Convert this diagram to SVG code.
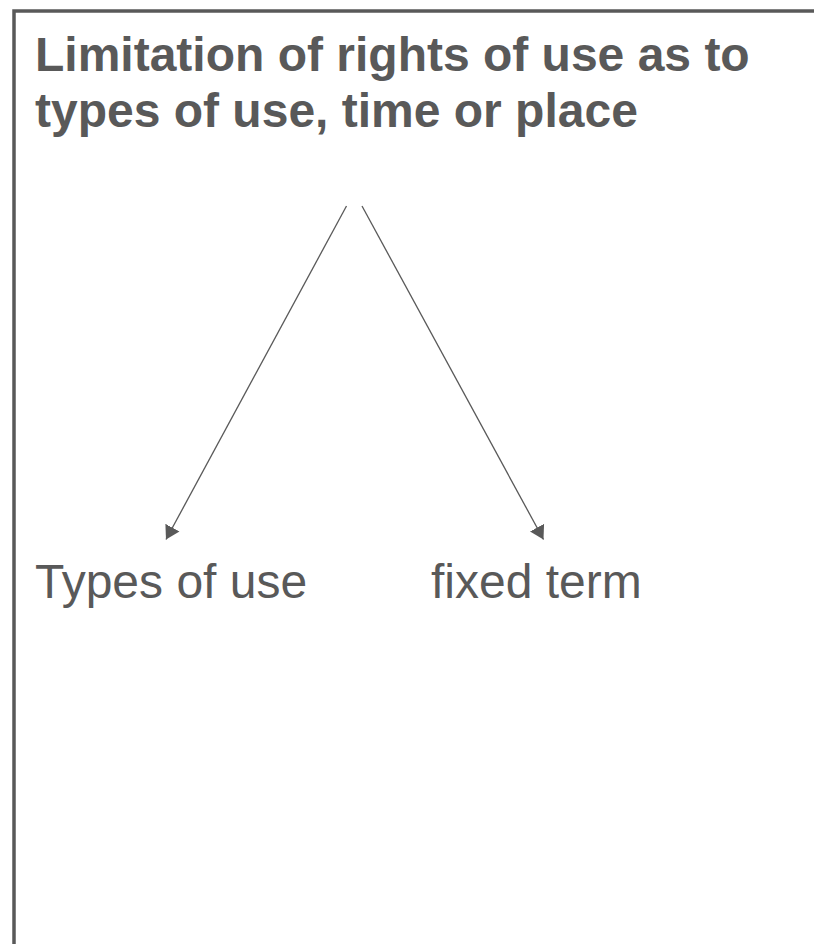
<svg xmlns="http://www.w3.org/2000/svg" width="814" height="944" viewBox="0 0 814 944">
  <style>
    .frame { fill: #ffffff; stroke: #595959; stroke-width: 3.5; }
    .title { font-family: "Liberation Sans", Arial, sans-serif; font-size: 48px; font-weight: bold; fill: #595959; }
    .label { font-family: "Liberation Sans", Arial, sans-serif; font-size: 48px; fill: #595959; }
    .conn { stroke: #595959; stroke-width: 1.3; fill: none; marker-end: url(#arrow); }
  </style>
  <defs>
    <marker id="arrow" markerUnits="userSpaceOnUse" markerWidth="14" markerHeight="17" refX="13.5" refY="8" orient="auto" viewBox="0 0 14 16">
      <path d="M0,0 L13.5,8 L0,16 z" fill="#595959"/>
    </marker>
  </defs>
  <rect width="814" height="944" fill="#ffffff"/>
  <g id="frame">
    <rect class="frame" x="14" y="11" width="820" height="960"/>
  </g>
  <g id="title">
    <text class="title" x="35" y="71">Limitation of rights of use as to</text>
    <text class="title" x="35" y="127">types of use, time or place</text>
  </g>
  <g id="connectors">
    <line class="conn" x1="346.5" y1="206" x2="166" y2="539.5"/>
    <line class="conn" x1="362" y1="206" x2="543.5" y2="539.5"/>
  </g>
  <g id="node-types-of-use">
    <text class="label" x="35" y="598">Types of use</text>
  </g>
  <g id="node-fixed-term">
    <text class="label" x="431" y="598">fixed term</text>
  </g>
</svg>
